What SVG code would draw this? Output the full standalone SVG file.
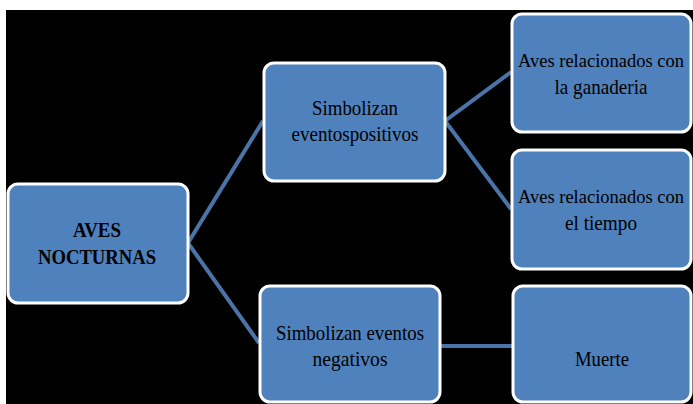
<svg xmlns="http://www.w3.org/2000/svg" width="693" height="404" viewBox="0 0 693 404">
<style>
.box{fill:#4F81BD;stroke:#ffffff;stroke-width:3}
.t{font-family:"Liberation Serif","Times New Roman",serif;font-size:21px;fill:#000;text-anchor:middle}
.s{font-size:19.5px}
.b{font-weight:bold}
.c{stroke:#4A74A8;stroke-width:4;fill:none}
</style>
<rect x="0" y="0" width="693" height="404" fill="#ffffff"/>
<rect x="6" y="10" width="687" height="394" fill="#000000"/>
<g id="connectors">
<polyline class="c" points="263,121 188,243 259,343"/>
<polyline class="c" points="511,72 445,121 511,209"/>
<line class="c" x1="440" y1="346" x2="512" y2="346"/>
</g>
<g id="n-aves">
<rect class="box" x="8" y="184" width="180" height="119" rx="10"/>
<text class="t b" x="97" y="237" textLength="48" lengthAdjust="spacingAndGlyphs">AVES</text>
<text class="t b" x="97" y="264" textLength="118" lengthAdjust="spacingAndGlyphs">NOCTURNAS</text>
</g>
<g id="n-positivos">
<rect class="box" x="264" y="63" width="181" height="118" rx="10"/>
<text class="t" x="355" y="115" textLength="86" lengthAdjust="spacingAndGlyphs">Simbolizan</text>
<text class="t" x="355" y="141" textLength="127" lengthAdjust="spacingAndGlyphs">eventospositivos</text>
</g>
<g id="n-ganaderia">
<rect class="box" x="512" y="14" width="179" height="118" rx="10"/>
<text class="t s" x="601" y="67" textLength="166" lengthAdjust="spacingAndGlyphs">Aves relacionados con</text>
<text class="t" x="601" y="94" textLength="93" lengthAdjust="spacingAndGlyphs">la ganaderia</text>
</g>
<g id="n-tiempo">
<rect class="box" x="512" y="150" width="179" height="119" rx="10"/>
<text class="t s" x="601" y="203" textLength="166" lengthAdjust="spacingAndGlyphs">Aves relacionados con</text>
<text class="t" x="601" y="230" textLength="72" lengthAdjust="spacingAndGlyphs">el tiempo</text>
</g>
<g id="n-negativos">
<rect class="box" x="260" y="286" width="180" height="116" rx="10"/>
<text class="t" x="350" y="340" textLength="148" lengthAdjust="spacingAndGlyphs">Simbolizan eventos</text>
<text class="t" x="350" y="366" textLength="75" lengthAdjust="spacingAndGlyphs">negativos</text>
</g>
<g id="n-muerte">
<rect class="box" x="513" y="286" width="178" height="116" rx="10"/>
<text class="t" x="602" y="366" textLength="54" lengthAdjust="spacingAndGlyphs">Muerte</text>
</g>
</svg>
